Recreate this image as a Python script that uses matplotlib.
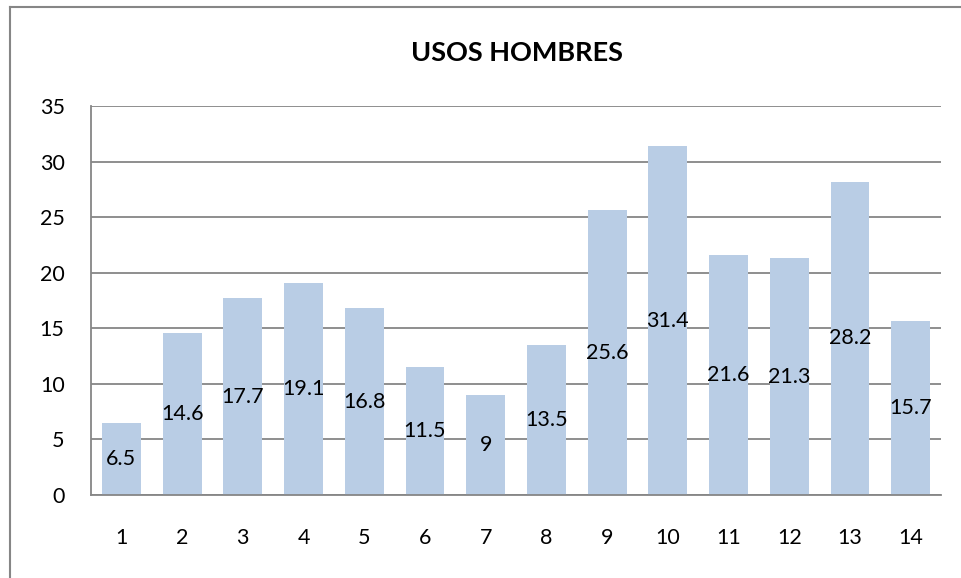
import matplotlib.pyplot as plt
from matplotlib.lines import Line2D

categories = ['1', '2', '3', '4', '5', '6', '7', '8', '9', '10', '11', '12', '13', '14']
values = [6.5, 14.6, 17.7, 19.1, 16.8, 11.5, 9, 13.5, 25.6, 31.4, 21.6, 21.3, 28.2, 15.7]
value_labels = ['6.5', '14.6', '17.7', '19.1', '16.8', '11.5', '9', '13.5',
                '25.6', '31.4', '21.6', '21.3', '28.2', '15.7']

plt.rcParams['font.family'] = ['Lato', 'DejaVu Sans']

fig = plt.figure(figsize=(9.61, 5.78), dpi=100)
ax = fig.add_axes([91/961, 1 - 495/578, 850/961, 389/578])

x = range(len(categories))
bars = ax.bar(x, values, width=0.64, color='#B9CDE5', zorder=2)

# labels sit in the middle of each bar
for i, v in enumerate(values):
    ax.text(i, v / 2, value_labels[i], ha='center', va='center', fontsize=15.5, zorder=3)

ax.set_xlim(-0.5, len(categories) - 0.5)
ax.set_ylim(0, 35)
ax.set_yticks(range(0, 36, 5))
ax.set_xticks(list(x))
ax.set_xticklabels(categories)
ax.tick_params(axis='both', length=0, labelsize=15.5)
ax.tick_params(axis='y', pad=19)
ax.tick_params(axis='x', pad=24)
ax.yaxis.grid(True, color='#868686', lw=1.3, zorder=1)
ax.set_axisbelow(True)

for s in ['top', 'right']:
    ax.spines[s].set_visible(False)
for s in ['left', 'bottom']:
    ax.spines[s].set_color('#868686')
    ax.spines[s].set_linewidth(1.3)

fig.text(517/961, 1 - 53/578, 'USOS HOMBRES', ha='center', va='center',
         fontsize=19.5, fontweight='bold')

# chart frame (top and left edges visible)
fig.add_artist(Line2D([9.5/961, 1], [1 - 6.5/578, 1 - 6.5/578], color='#868686', lw=1.5))
fig.add_artist(Line2D([9.5/961, 9.5/961], [0, 1 - 6.5/578], color='#868686', lw=1.5))

fig.savefig('out.png', dpi=100)
